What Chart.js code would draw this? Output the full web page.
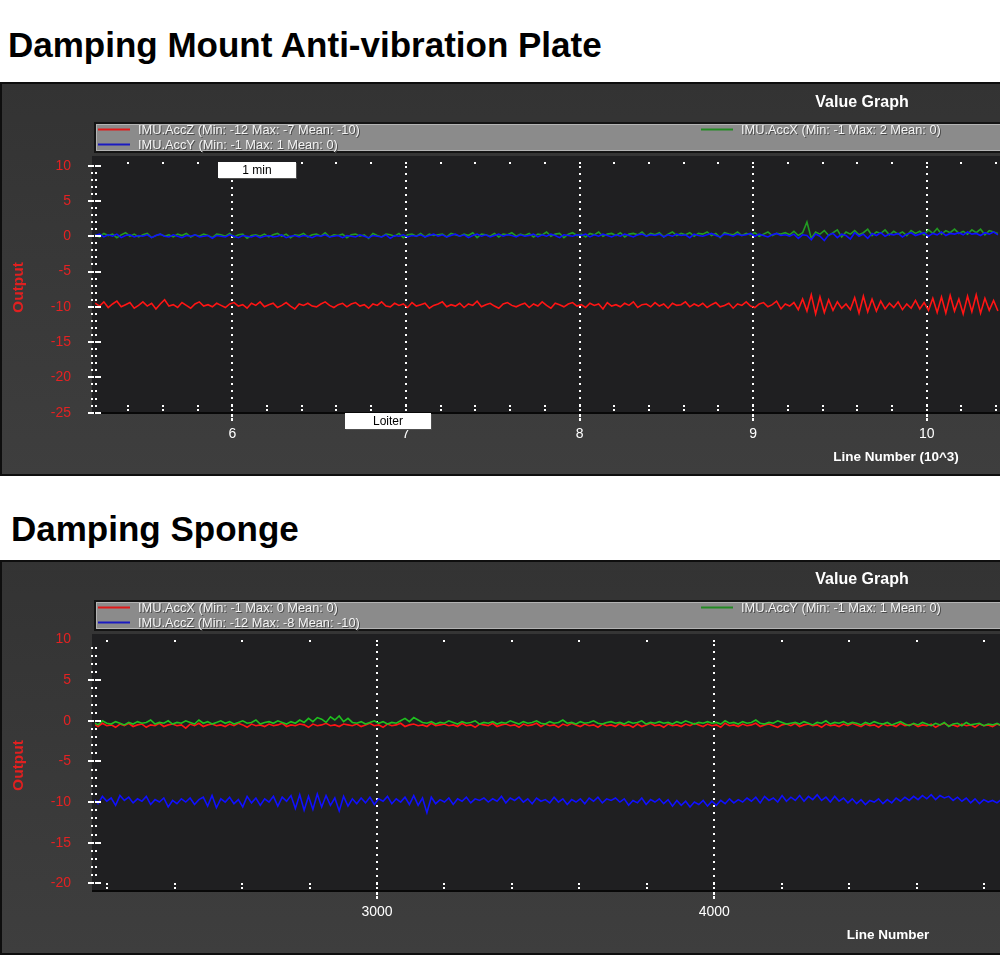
<!DOCTYPE html>
<html>
<head>
<meta charset="utf-8">
<script src="https://cdn.jsdelivr.net/npm/chart.js@4.4.1/dist/chart.umd.min.js"></script>
<style>
html,body{margin:0;padding:0;background:#fff;width:1000px;height:955px;overflow:hidden;font-family:"Liberation Sans",Arial,sans-serif;}
.title{position:absolute;font-weight:bold;font-size:35px;line-height:38px;color:#000;white-space:nowrap;}
.panel{position:absolute;left:0;width:1000px;}
canvas{display:block;}
</style>
</head>
<body>
<div class="title" style="top:26px;left:8px">Damping Mount Anti-vibration Plate</div>
<div class="panel" style="top:82px;height:394px"><canvas id="c1" width="1000" height="394"></canvas></div>
<div class="title" style="top:510px;left:11px">Damping Sponge</div>
<div class="panel" style="top:560px;height:395px"><canvas id="c2" width="1000" height="395"></canvas></div>
<script>
// ================= Chart 1: Damping Mount Anti-vibration Plate =================
const plateStart = 5.21;   // line number (10^3) of first sample
const plateStep = 0.025;   // sample spacing (10^3 lines)
const plateAccZ = [
 -9.5,-9.9,-9.3,-10.1,-9.6,-9.2,-10.0,-9.7,-9.4,-10.2,
 -9.8,-9.3,-9.9,-9.5,-10.3,-9.6,-9.0,-9.9,-9.7,-10.1,
 -9.4,-9.8,-10.2,-9.6,-9.3,-9.9,-9.7,-10.0,-9.5,-9.8,
 -10.1,-9.6,-9.4,-9.9,-9.7,-10.2,-9.5,-9.8,-9.3,-10.0,
 -9.7,-9.5,-10.1,-9.8,-9.4,-9.9,-10.3,-9.6,-9.8,-9.5,
 -9.9,-10.0,-9.6,-9.3,-9.8,-10.1,-9.7,-9.5,-10.0,-9.6,
 -9.4,-9.9,-9.7,-10.2,-9.6,-9.8,-9.3,-9.9,-10.0,-9.5,
 -9.8,-9.6,-10.1,-9.4,-9.9,-9.7,-9.5,-10.2,-9.8,-9.6,
 -9.3,-10.0,-9.7,-9.9,-9.5,-10.1,-9.6,-9.8,-9.2,-10.0,
 -9.7,-9.5,-9.9,-10.2,-9.6,-9.4,-9.8,-10.0,-9.7,-9.5,
 -10.1,-9.6,-9.9,-9.3,-9.8,-10.2,-9.5,-9.7,-10.0,-9.6,
 -9.4,-9.9,-9.7,-10.1,-9.5,-9.8,-9.6,-10.3,-9.4,-9.9,
 -9.7,-10.0,-9.5,-9.8,-9.3,-10.1,-9.7,-9.6,-10.0,-9.4,
 -9.9,-9.6,-10.2,-9.5,-9.8,-9.7,-9.3,-10.0,-9.6,-9.9,
 -9.5,-10.1,-9.7,-9.4,-10.0,-9.8,-9.5,-10.2,-9.6,-9.8,
 -9.3,-9.9,-10.1,-9.6,-9.4,-10.0,-9.7,-9.2,-10.3,-9.6,
 -9.9,-9.4,-10.4,-8.9,-10.6,-8.3,-11.0,-8.6,-10.8,-9.0,
 -10.5,-9.3,-10.2,-9.6,-10.4,-8.7,-10.9,-8.5,-10.7,-8.9,
 -10.6,-9.2,-10.3,-9.5,-10.1,-9.3,-10.4,-9.6,-10.2,-9.1,
 -10.3,-9.4,-10.5,-8.8,-10.8,-8.6,-10.9,-8.4,-10.6,-8.9,
 -11.0,-8.5,-10.7,-8.3,-10.9,-8.8,-10.5,-9.1,-10.6
];
const plateAccX = [
 0.2,-0.1,0.4,0.1,0.3,-0.2,0.2,0.5,0.0,0.3,
 -0.1,0.2,0.4,-0.2,0.1,0.3,0.0,0.2,-0.1,0.3,
 0.1,0.4,-0.1,0.2,0.0,0.3,0.1,-0.2,0.3,0.2,
 0.0,0.4,-0.1,0.2,0.3,-0.3,0.1,0.2,0.0,0.3,
 -0.1,0.2,0.4,0.0,0.3,-0.2,0.2,0.1,0.4,-0.1,
 0.2,0.3,0.0,0.5,-0.1,0.2,0.1,0.3,-0.2,0.2,
 0.3,0.0,0.2,-0.3,0.4,0.1,-0.1,0.3,0.2,0.0,
 0.4,-0.2,0.2,0.3,0.0,0.4,-0.1,0.3,0.1,0.2,
 0.3,-0.1,0.4,0.2,0.0,0.3,0.1,0.5,-0.2,0.3,
 0.2,0.0,0.4,-0.1,0.3,0.2,0.5,0.0,0.3,0.1,
 0.4,-0.1,0.3,0.2,0.6,0.0,0.3,0.4,-0.2,0.3,
 0.5,0.1,0.3,-0.1,0.4,0.2,0.6,0.0,0.3,0.4,
 0.1,0.5,-0.1,0.3,0.4,0.2,0.6,0.0,0.4,0.2,
 0.5,-0.1,0.3,0.6,0.1,0.4,0.2,0.5,0.0,0.4,
 0.3,0.6,0.1,0.4,-0.2,0.5,0.3,0.2,0.6,0.1,
 0.4,0.2,0.5,0.0,0.3,0.6,0.1,0.4,0.3,0.5,
 0.2,0.7,0.1,0.5,2.0,-0.3,0.6,0.3,0.8,0.1,
 0.5,0.9,-0.1,0.6,0.3,0.8,0.2,0.5,1.0,0.1,
 0.6,0.4,0.9,0.2,0.7,0.3,0.6,0.1,0.8,0.4,
 0.7,0.2,0.9,0.4,1.1,0.3,0.8,0.5,1.0,0.4,
 0.7,0.3,0.9,0.5,1.0,0.2,0.8,0.6,0.4
];
const plateAccY = [
 0.1,0.3,-0.1,0.2,0.0,0.3,-0.2,0.1,0.2,-0.1,
 0.1,0.0,0.2,-0.2,0.1,0.3,0.0,-0.1,0.2,0.0,
 -0.2,0.1,0.0,0.2,-0.1,0.0,0.1,-0.3,0.1,0.0,
 -0.1,0.2,0.0,-0.2,0.1,0.0,-0.1,0.1,-0.2,0.0,
 0.1,-0.1,0.0,0.2,-0.2,0.0,0.1,-0.1,0.1,0.0,
 -0.2,0.1,0.0,0.2,-0.1,0.0,0.1,-0.2,0.1,0.0,
 -0.1,0.2,0.0,-0.2,0.1,0.0,-0.1,0.2,-0.3,0.1,
 0.0,0.2,-0.1,0.1,0.0,0.2,-0.1,0.1,0.3,0.0,
 0.2,-0.1,0.1,0.3,0.0,0.2,-0.2,0.1,0.3,0.0,
 0.2,-0.1,0.1,0.3,0.0,0.2,0.1,-0.1,0.2,0.0,
 0.1,0.3,-0.1,0.2,0.0,0.3,0.1,-0.2,0.2,0.1,
 0.0,0.2,0.1,0.3,-0.1,0.2,0.0,0.3,0.1,-0.1,
 0.2,0.0,0.3,0.1,-0.1,0.2,0.3,0.0,0.2,0.1,
 0.3,-0.1,0.2,0.0,0.3,0.1,0.2,-0.2,0.3,0.1,
 0.0,0.2,0.4,0.1,-0.1,0.3,0.2,0.0,0.3,0.1,
 0.2,0.4,0.0,0.3,0.1,-0.1,0.2,0.4,0.1,0.2,
 0.0,0.3,-0.3,0.2,0.1,-0.5,0.3,0.0,-0.6,0.2,
 0.4,-0.2,0.3,0.1,-0.4,0.5,0.0,0.3,-0.3,0.4,
 0.1,0.5,0.0,0.3,0.2,0.4,-0.1,0.3,0.5,0.1,
 0.3,0.5,0.0,0.4,0.2,0.6,0.1,0.4,0.3,0.5,
 0.2,0.6,0.3,0.4,0.1,0.5,0.3,0.6,0.2
];
const plateXTicks = [6, 7, 8, 9, 10];
const plateYTicks = [10, 5, 0, -5, -10, -15, -20, -25];
const plateLabels = [
  'IMU.AccZ (Min: -12 Max: -7 Mean: -10)',
  'IMU.AccY (Min: -1 Max: 1 Mean: 0)',
  'IMU.AccX (Min: -1 Max: 2 Mean: 0)'
];
const plateMarks = ['1 min', 'Loiter'];
const plateMarkX = [5.918, 6.649];

// ================= Chart 2: Damping Sponge =================
const spongeStart = 2160;  // line number of first sample
const spongeStep = 13;
const spongeAccX = [
 -0.4,-0.7,-0.3,-0.6,-0.5,-0.8,-0.4,-0.6,-0.3,-0.7,
 -0.5,-0.4,-0.8,-0.5,-0.6,-0.3,-0.7,-0.5,-0.4,-0.6,
 -0.5,-0.9,-0.4,-0.6,-0.3,-0.7,-0.5,-0.4,-0.6,-0.5,
 -0.7,-0.4,-0.6,-0.3,-0.5,-0.8,-0.4,-0.6,-0.5,-0.7,
 -0.4,-0.6,-0.5,-0.3,-0.7,-0.5,-0.6,-0.4,-0.5,-0.8,
 -0.4,-0.6,-0.5,-0.3,-0.6,-0.5,-0.7,-0.4,-0.5,-0.6,
 -0.4,-0.7,-0.5,-0.3,-0.6,-0.5,-0.8,-0.4,-0.6,-0.5,
 -0.3,-0.7,-0.5,-0.4,-0.6,-0.5,-0.7,-0.3,-0.6,-0.5,
 -0.4,-0.6,-0.5,-0.7,-0.3,-0.6,-0.5,-0.8,-0.4,-0.5,
 -0.6,-0.3,-0.7,-0.5,-0.4,-0.6,-0.5,-0.8,-0.4,-0.6,
 -0.5,-0.3,-0.7,-0.4,-0.6,-0.5,-0.8,-0.4,-0.6,-0.3,
 -0.5,-0.7,-0.4,-0.6,-0.5,-0.8,-0.4,-0.6,-0.5,-0.7,
 -0.3,-0.6,-0.5,-0.8,-0.4,-0.7,-0.5,-0.3,-0.6,-0.5,
 -0.8,-0.4,-0.6,-0.5,-0.7,-0.4,-0.6,-0.3,-0.5,-0.7,
 -0.4,-0.6,-0.5,-0.8,-0.3,-0.6,-0.5,-0.7,-0.4,-0.6,
 -0.5,-0.3,-0.7,-0.5,-0.4,-0.6,-0.8,-0.5,-0.4,-0.6,
 -0.3,-0.7,-0.5,-0.4,-0.6,-0.5,-0.8,-0.4,-0.6,-0.5,
 -0.7,-0.4,-0.6,-0.3,-0.5,-0.7,-0.4,-0.6,-0.5,-0.8,
 -0.4,-0.6,-0.5,-0.7,-0.3,-0.6,-0.5,-0.4,-0.7,-0.5,
 -0.6,-0.4,-0.8,-0.5,-0.3,-0.6,-0.5,-0.7,-0.4,-0.6,
 -0.5,-0.8,-0.4,-0.6,-0.5,-0.7,-0.4,-0.6
];
const spongeAccY = [
 -0.2,-0.5,0.0,-0.3,-0.4,-0.1,-0.3,-0.5,-0.2,-0.4,
 -0.1,-0.3,-0.2,0.1,-0.4,-0.2,-0.3,0.0,-0.4,-0.2,
 -0.3,0.0,-0.2,-0.4,0.1,-0.3,-0.1,-0.4,-0.2,0.0,
 -0.3,-0.1,-0.4,-0.2,0.0,-0.3,-0.2,0.1,-0.4,-0.2,
 -0.1,-0.3,0.0,-0.2,-0.4,-0.1,-0.3,0.1,-0.2,0.3,
 -0.1,0.4,0.2,-0.2,0.5,0.1,0.6,-0.1,0.3,-0.2,
 -0.3,-0.1,-0.4,-0.2,0.0,-0.3,-0.1,-0.4,-0.2,-0.3,
 0.0,0.3,-0.1,0.4,0.1,-0.2,-0.3,-0.1,-0.4,-0.2,
 -0.3,0.0,-0.2,-0.4,-0.1,-0.3,-0.2,0.0,-0.4,-0.2,
 -0.3,-0.1,-0.4,-0.2,-0.3,0.0,-0.2,-0.4,-0.1,-0.3,
 -0.2,0.0,-0.3,-0.4,-0.1,-0.3,-0.2,0.1,-0.3,-0.2,
 -0.4,-0.1,-0.3,-0.2,0.0,-0.3,-0.4,-0.2,-0.1,-0.3,
 -0.2,-0.4,-0.1,-0.3,-0.2,0.0,-0.4,-0.2,-0.3,-0.1,
 -0.3,-0.2,-0.4,-0.1,-0.3,0.0,-0.2,-0.4,-0.2,-0.3,
 -0.1,-0.3,-0.2,-0.4,0.0,-0.3,-0.2,-0.4,-0.1,-0.3,
 -0.2,0.1,-0.3,-0.4,-0.2,-0.3,0.0,-0.2,-0.4,-0.3,
 -0.2,-0.4,-0.1,-0.3,-0.5,-0.2,-0.3,0.0,-0.4,-0.2,
 -0.3,-0.1,-0.4,-0.2,-0.3,-0.5,-0.2,-0.4,-0.1,-0.3,
 -0.4,-0.2,-0.5,-0.3,-0.1,-0.4,-0.6,-0.3,-0.5,-0.2,
 -0.4,-0.6,-0.3,-0.5,-0.2,-0.7,-0.4,-0.3,-0.6,-0.2,
 -0.5,-0.4,-0.3,-0.6,-0.4,-0.5,-0.3,-0.6
];
const spongeAccZ = [
 -9.6,-10.2,-9.3,-9.9,-9.5,-10.4,-9.2,-9.8,-9.4,-10.1,
 -9.6,-9.9,-9.3,-10.3,-9.7,-10.0,-9.5,-10.6,-9.8,-10.2,
 -9.6,-10.0,-9.5,-10.3,-9.7,-9.4,-10.5,-9.2,-10.7,-9.6,
 -10.0,-9.4,-10.2,-9.7,-10.6,-9.3,-10.1,-9.5,-10.4,-9.6,
 -10.0,-9.3,-10.5,-9.4,-9.9,-9.2,-10.8,-9.1,-11.0,-9.3,
 -10.9,-9.0,-10.6,-9.2,-10.4,-9.5,-11.1,-9.3,-10.5,-9.6,
 -10.2,-9.5,-10.1,-9.4,-10.3,-9.6,-9.9,-9.3,-10.2,-9.6,
 -10.0,-9.4,-10.3,-9.2,-10.4,-9.5,-11.3,-9.4,-10.2,-9.7,
 -10.0,-9.5,-10.3,-9.6,-9.9,-9.4,-10.1,-9.6,-9.8,-9.5,
 -10.0,-9.6,-9.9,-9.3,-10.1,-9.5,-9.8,-9.4,-10.0,-9.6,
 -10.2,-9.5,-9.9,-9.7,-10.1,-9.4,-10.0,-9.6,-10.3,-9.7,
 -10.0,-9.6,-10.2,-9.5,-9.9,-9.4,-10.1,-9.6,-9.8,-9.5,
 -10.0,-9.6,-10.4,-9.8,-10.1,-9.5,-10.3,-9.7,-10.0,-9.6,
 -10.2,-9.7,-10.5,-9.8,-10.4,-9.9,-10.6,-10.0,-10.3,-9.8,
 -10.5,-9.9,-10.4,-9.8,-10.2,-9.6,-10.1,-9.7,-10.0,-9.5,
 -9.9,-9.4,-10.1,-9.3,-9.8,-9.5,-10.0,-9.2,-9.9,-9.4,
 -9.8,-9.2,-9.9,-9.3,-9.7,-9.1,-9.8,-9.4,-10.0,-9.3,
 -9.9,-9.5,-10.1,-9.6,-10.2,-9.7,-10.3,-9.8,-10.0,-9.6,
 -10.2,-9.7,-10.1,-9.5,-9.9,-9.4,-9.8,-9.3,-9.7,-9.2,
 -9.6,-9.1,-9.7,-9.2,-9.5,-9.3,-9.8,-9.4,-9.9,-9.5,
 -10.1,-9.6,-10.2,-9.7,-10.0,-9.8,-10.1,-9.7
];
const spongeXTicks = [3000, 4000];
const spongeYTicks = [10, 5, 0, -5, -10, -15, -20];
const spongeLabels = [
  'IMU.AccX (Min: -1 Max: 0 Mean: 0)',
  'IMU.AccZ (Min: -12 Max: -8 Mean: -10)',
  'IMU.AccY (Min: -1 Max: 1 Mean: 0)'
];

// ================= drawing =================
const FONT = '"Liberation Sans", Arial, sans-serif';
const RED = '#ff1414', BLUE = '#1010ff', GREEN1 = '#229a22', GREEN2 = '#1fc01f';

function toPoints(start, step, values) {
  return values.map((v, i) => ({ x: start + i * step, y: v }));
}

const deco = {
  id: 'deco',
  beforeDraw(chart, args, o) {
    const { ctx, chartArea: a, width: W, height: H } = chart;
    ctx.save();
    const g = ctx.createLinearGradient(0, 0, 0, H);
    g.addColorStop(0, '#333333'); g.addColorStop(1, '#3e3e3e');
    ctx.fillStyle = g; ctx.fillRect(0, 0, W, H);
    ctx.fillStyle = '#0e0e0e';
    ctx.fillRect(0, 0, W, 2); ctx.fillRect(0, 0, 2, H); ctx.fillRect(0, H - 2, W, 2);
    ctx.fillStyle = '#1f1f21';
    ctx.fillRect(a.left - 3, a.top - 6, a.right - a.left + 3, a.bottom - a.top + 6);
    const lx = a.left - 1, ly = 40, lh = 31;
    ctx.fillStyle = '#141414'; ctx.fillRect(lx, ly, W - lx, lh);
    ctx.fillStyle = '#b4b4b4'; ctx.fillRect(lx + 2, ly + 2, W - lx, lh - 4);
    ctx.fillStyle = '#8b8b8b'; ctx.fillRect(lx + 3, ly + 3, W - lx, lh - 6);
    ctx.restore();
  },
  beforeDatasetsDraw(chart, args, o) {
    const { ctx, chartArea: a, scales: { x } } = chart;
    ctx.save(); ctx.fillStyle = '#ffffff';
    for (const v of o.xTicks) {
      const px = Math.round(x.getPixelForValue(v));
      for (let y = a.top + 4; y < a.bottom - 3; y += 7) ctx.fillRect(px - 1, y, 2, 2);
    }
    ctx.restore();
  },
  afterDraw(chart, args, o) {
    const { ctx, chartArea: a, width: W, scales: { x, y } } = chart;
    ctx.save();
    ctx.fillStyle = '#080808';
    ctx.fillRect(a.left - 3, a.bottom - 1, W, 2);
    ctx.fillStyle = '#ffffff';
    const first = Math.ceil(x.min / o.minorStep - 1e-9) * o.minorStep;
    for (let v = first; v <= x.max + 1e-9; v += o.minorStep) {
      const px = Math.round(x.getPixelForValue(v));
      ctx.fillRect(px - 1, a.top, 2, 2);
      ctx.fillRect(px - 1, a.bottom - 8, 2, 2);
      ctx.fillRect(px - 1, a.bottom - 4, 2, 2);
      if (o.xTicks.some(t => Math.abs(t - v) < o.minorStep / 10)) {
        ctx.fillRect(px - 1, a.bottom + 1, 2, 3);
        ctx.fillRect(px - 1, a.bottom + 5, 2, 3);
      }
    }
    for (let v = Math.ceil(y.min); v <= Math.floor(y.max); v++) {
      const py = Math.round(y.getPixelForValue(v));
      if (v % 5 === 0) {
        ctx.fillRect(a.left - 7, py - 1, 6, 2);
        ctx.fillRect(a.left, py - 1, 6, 2);
      } else {
        ctx.fillRect(a.left - 4, py - 1, 2, 2);
        ctx.fillRect(a.left, py - 1, 2, 2);
      }
    }
    ctx.fillStyle = '#ffffff';
    ctx.font = 'bold 16px ' + FONT;
    ctx.textAlign = 'center'; ctx.textBaseline = 'middle';
    ctx.fillText(o.header, 862, o.headerY);
    ctx.font = 'bold 13.5px ' + FONT;
    ctx.fillText(o.xTitle, o.xTitleX, 375);
    ctx.save();
    ctx.translate(19, (a.top + a.bottom) / 2);
    ctx.rotate(-Math.PI / 2);
    ctx.fillStyle = '#e02020';
    ctx.font = 'bold 15.5px ' + FONT;
    ctx.fillText('Output', 0, 0);
    ctx.restore();
    ctx.font = '12.8px ' + FONT;
    ctx.textAlign = 'left';
    chart.data.datasets.forEach(ds => {
      const lx = ds.legendCol === 0 ? 98 : 701;
      const ly = 47.5 + ds.legendRow * 15;
      ctx.strokeStyle = ds.legendColor; ctx.lineWidth = 2;
      ctx.beginPath(); ctx.moveTo(lx, ly); ctx.lineTo(lx + 32, ly); ctx.stroke();
      ctx.fillStyle = '#4a4a4a';
      ctx.fillText(ds.label, lx + 41, ly + 1.5);
      ctx.fillStyle = '#f4f4f4';
      ctx.fillText(ds.label, lx + 40, ly + 0.5);
    });
    (o.marks || []).forEach(m => {
      const px = Math.round(x.getPixelForValue(m.x));
      const top = m.pos === 'top' ? a.top : a.bottom;
      ctx.fillStyle = '#505050'; ctx.fillRect(px + 1, top + 1, m.w, 16);
      ctx.fillStyle = '#ffffff'; ctx.fillRect(px, top, m.w, 16);
      ctx.fillStyle = '#000000'; ctx.font = '12px ' + FONT;
      ctx.textAlign = 'center'; ctx.textBaseline = 'middle';
      ctx.fillText(m.text, px + m.w / 2, top + 8.5);
    });
    ctx.restore();
  }
};

function makeChart(id, c) {
  return new Chart(document.getElementById(id), {
    type: 'line',
    data: {
      datasets: c.series.map(s => ({
        label: s.label,
        data: toPoints(c.start, c.step, s.values),
        borderColor: s.color,
        borderWidth: 1.6,
        pointRadius: 0,
        tension: 0,
        fill: false,
        legendCol: s.col,
        legendRow: s.row,
        legendColor: s.legendColor
      }))
    },
    options: {
      responsive: false,
      animation: false,
      devicePixelRatio: 1,
      events: [],
      layout: { padding: { top: 80, left: 0, right: 0, bottom: 0 } },
      plugins: {
        legend: { display: false },
        tooltip: { enabled: false },
        deco: c.deco
      },
      scales: {
        x: {
          type: 'linear', min: c.xMin, max: c.xMax,
          afterFit(s) { s.height = c.xHeight; },
          afterBuildTicks(s) { s.ticks = c.xTicks.map(v => ({ value: v })); },
          grid: { display: false }, border: { display: false },
          ticks: { color: '#ffffff', font: { family: FONT, size: 14 }, padding: 5,
                   autoSkip: false, maxRotation: 0, callback: v => String(v) }
        },
        y: {
          type: 'linear', min: c.yMin, max: c.yMax,
          afterFit(s) { s.width = 95; },
          afterBuildTicks(s) { s.ticks = c.yTicks.map(v => ({ value: v })); },
          grid: { display: false }, border: { display: false },
          ticks: { color: '#e42222', font: { family: FONT, size: 14 }, padding: 16,
                   autoSkip: false, callback: v => String(v) }
        }
      }
    },
    plugins: [deco]
  });
}

makeChart('c1', {
  start: plateStart, step: plateStep,
  xMin: 5.209, xMax: 10.422, yMin: -25.05, yMax: 10.52, xHeight: 63,
  xTicks: plateXTicks, yTicks: plateYTicks,
  series: [
    { label: plateLabels[1], values: plateAccY, color: BLUE, legendColor: '#1a1ac0', col: 0, row: 1 },
    { label: plateLabels[2], values: plateAccX, color: GREEN1, legendColor: '#238a23', col: 1, row: 0 },
    { label: plateLabels[0], values: plateAccZ, color: RED, legendColor: '#e01818', col: 0, row: 0 }
  ],
  deco: {
    xTicks: plateXTicks, minorStep: 0.2, header: 'Value Graph', headerY: 21,
    xTitle: 'Line Number (10^3)', xTitleX: 896,
    marks: [
      { text: plateMarks[0], x: plateMarkX[0], pos: 'top', w: 78 },
      { text: plateMarks[1], x: plateMarkX[1], pos: 'bottom', w: 86 }
    ]
  }
});

makeChart('c2', {
  start: spongeStart, step: spongeStep,
  xMin: 2164, xMax: 4847, yMin: -20.95, yMax: 9.95, xHeight: 64,
  xTicks: spongeXTicks, yTicks: spongeYTicks,
  series: [
    { label: spongeLabels[1], values: spongeAccZ, color: BLUE, legendColor: '#1a1ac0', col: 0, row: 1 },
    { label: spongeLabels[2], values: spongeAccY, color: GREEN2, legendColor: '#238a23', col: 1, row: 0 },
    { label: spongeLabels[0], values: spongeAccX, color: RED, legendColor: '#e01818', col: 0, row: 0 }
  ],
  deco: {
    xTicks: spongeXTicks, minorStep: 200, header: 'Value Graph', headerY: 20,
    xTitle: 'Line Number',  xTitleX: 888,
    marks: []
  }
});
</script>
</body>
</html>
